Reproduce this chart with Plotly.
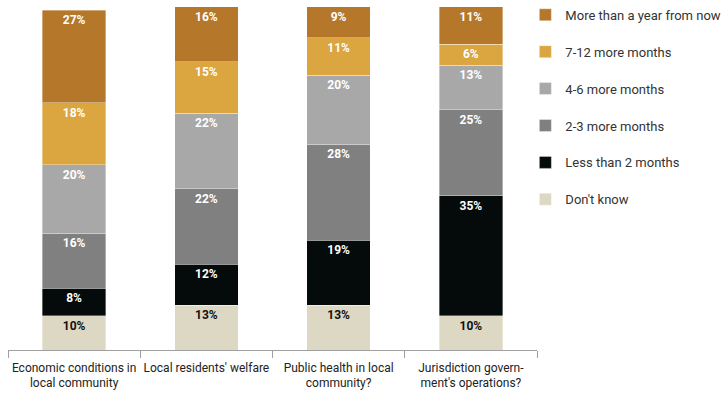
import plotly.graph_objects as go

categories = ["Economic conditions in<br>local community", "Local residents' welfare",
              "Public health in local<br>community?", "Jurisdiction govern-<br>ment's operations?"]
series_names = ["Don't know", "Less than 2 months", "2-3 more months", "4-6 more months",
                "7-12 more months", "More than a year from now"]
dont_know = [10, 13, 13, 10]
less_2 = [8, 12, 19, 35]
m2_3 = [16, 22, 28, 25]
m4_6 = [20, 22, 20, 13]
m7_12 = [18, 15, 11, 6]
year_plus = [27, 16, 9, 11]
values = [dont_know, less_2, m2_3, m4_6, m7_12, year_plus]
colors = ["#DDD8C4", "#050A0A", "#808080", "#A8A8A8", "#DBA540", "#B5782B"]
text_colors = ["#111111", "white", "white", "white", "white", "white"]

FONT = "Roboto, Liberation Sans, sans-serif"

fig = go.Figure()
n = len(series_names)
for i, (name, vals, col, tc) in enumerate(zip(series_names, values, colors, text_colors)):
    fig.add_trace(go.Bar(
        x=categories, y=vals, name=name,
        marker=dict(color=col, line=dict(color="rgba(255,255,255,0.6)", width=0.6)),
        text=[f"<b>{v}%</b>" for v in vals], textposition="inside",
        insidetextanchor="end", textangle=0,
        textfont=dict(color=tc, size=12, family=FONT),
        legendgroup=name, legendrank=n - i,
    ))

fig.update_layout(
    barmode="stack", bargap=0.52,
    width=726, height=393,
    margin=dict(l=8, r=189, t=5, b=43, autoexpand=False),
    plot_bgcolor="white", paper_bgcolor="white",
    font=dict(family=FONT, color="#222222", size=12),
    showlegend=True,
    legend=dict(x=0.978, y=1.015, xanchor="left", yanchor="top",
                font=dict(size=13, family=FONT, color="#333333"),
                tracegroupgap=17, traceorder="grouped",
                itemwidth=30, maxheight=1),
)
fig.update_xaxes(showline=True, linecolor="#A0A0A0", linewidth=1.2,
                 ticks="outside", tickson="boundaries", ticklen=7, tickcolor="#A0A0A0",
                 tickwidth=1.2, tickangle=0, ticklabelstandoff=6,
                 tickfont=dict(size=12, family=FONT, color="#222222"))
fig.update_yaxes(range=[0, 100.5], visible=False, showgrid=False)

fig.write_html("out.html", config={"displayModeBar": False},
               post_script="document.body.style.margin='0';document.body.style.overflow='hidden';")
